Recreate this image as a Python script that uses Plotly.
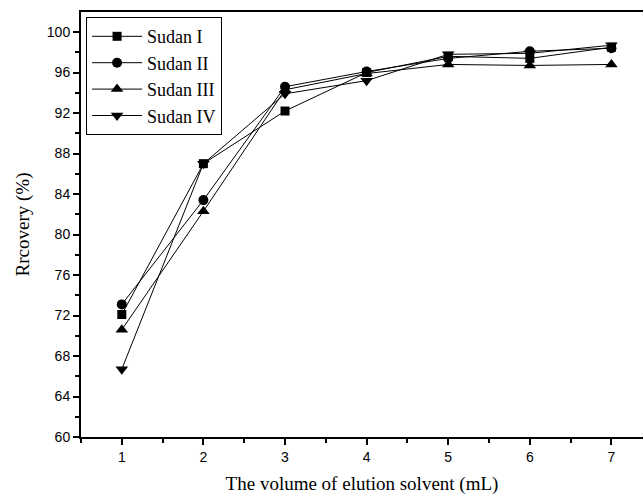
import plotly.graph_objects as go

volume = [1, 2, 3, 4, 5, 6, 7]
sudan_1 = [72.1, 87.0, 92.2, 96.0, 97.6, 97.4, 98.5]
sudan_2 = [73.1, 83.4, 94.6, 96.1, 97.4, 98.1, 98.4]
sudan_3 = [70.6, 82.3, 94.3, 95.9, 96.8, 96.7, 96.8]
sudan_4 = [66.7, 87.0, 93.9, 95.2, 97.8, 97.9, 98.7]

series = [
    ("Sudan I", sudan_1, "square", 9),
    ("Sudan II", sudan_2, "circle", 10),
    ("Sudan III", sudan_3, "triangle-up", 11),
    ("Sudan IV", sudan_4, "triangle-down", 11),
]

fig = go.Figure()
for name, vals, sym, sz in series:
    fig.add_trace(go.Scatter(
        x=volume, y=vals, name=name, mode="lines+markers",
        line=dict(color="black", width=1),
        marker=dict(symbol=sym, size=sz, color="black"),
    ))

fig.update_layout(
    width=643, height=498,
    margin=dict(l=81, r=0, t=12, b=61),
    paper_bgcolor="white", plot_bgcolor="white",
    showlegend=True,
    legend=dict(
        x=0.009, y=0.988, xanchor="left", yanchor="top",
        bordercolor="black", borderwidth=1,
        font=dict(family="Liberation Serif", size=18, color="black"),
        itemwidth=50, tracegroupgap=0, bgcolor="white",
    ),
    xaxis=dict(
        range=[0.5, 7.387], tickvals=volume, ticks="outside", ticklen=6, tickwidth=1.5,
        tickcolor="black", showline=True, linecolor="black", linewidth=2, mirror=True,
        showgrid=False, zeroline=False,
        tickfont=dict(family="Liberation Sans", size=14, color="black"),
        minor=dict(dtick=0.5, tick0=0.5, ticks="outside", ticklen=4, tickcolor="black", tickwidth=1.5),
        title=dict(text="The volume of elution solvent (mL)", standoff=13,
                   font=dict(family="Liberation Serif", size=19, color="black")),
    ),
    yaxis=dict(
        range=[60, 101.98], tickvals=[60, 64, 68, 72, 76, 80, 84, 88, 92, 96, 100],
        ticks="outside", ticklen=6, tickwidth=1.5, tickcolor="black",
        showline=True, linecolor="black", linewidth=2, mirror=False,
        showgrid=False, zeroline=False,
        tickfont=dict(family="Liberation Sans", size=14, color="black"),
        minor=dict(dtick=2, tick0=60, ticks="outside", ticklen=4, tickcolor="black", tickwidth=1.5),
        title=dict(text="Rrcovery (%)", standoff=12,
                   font=dict(family="Liberation Serif", size=19, color="black")),
    ),
)

fig.write_html("out.html", config={"displayModeBar": False},
               post_script="document.body.style.margin='0px';")
